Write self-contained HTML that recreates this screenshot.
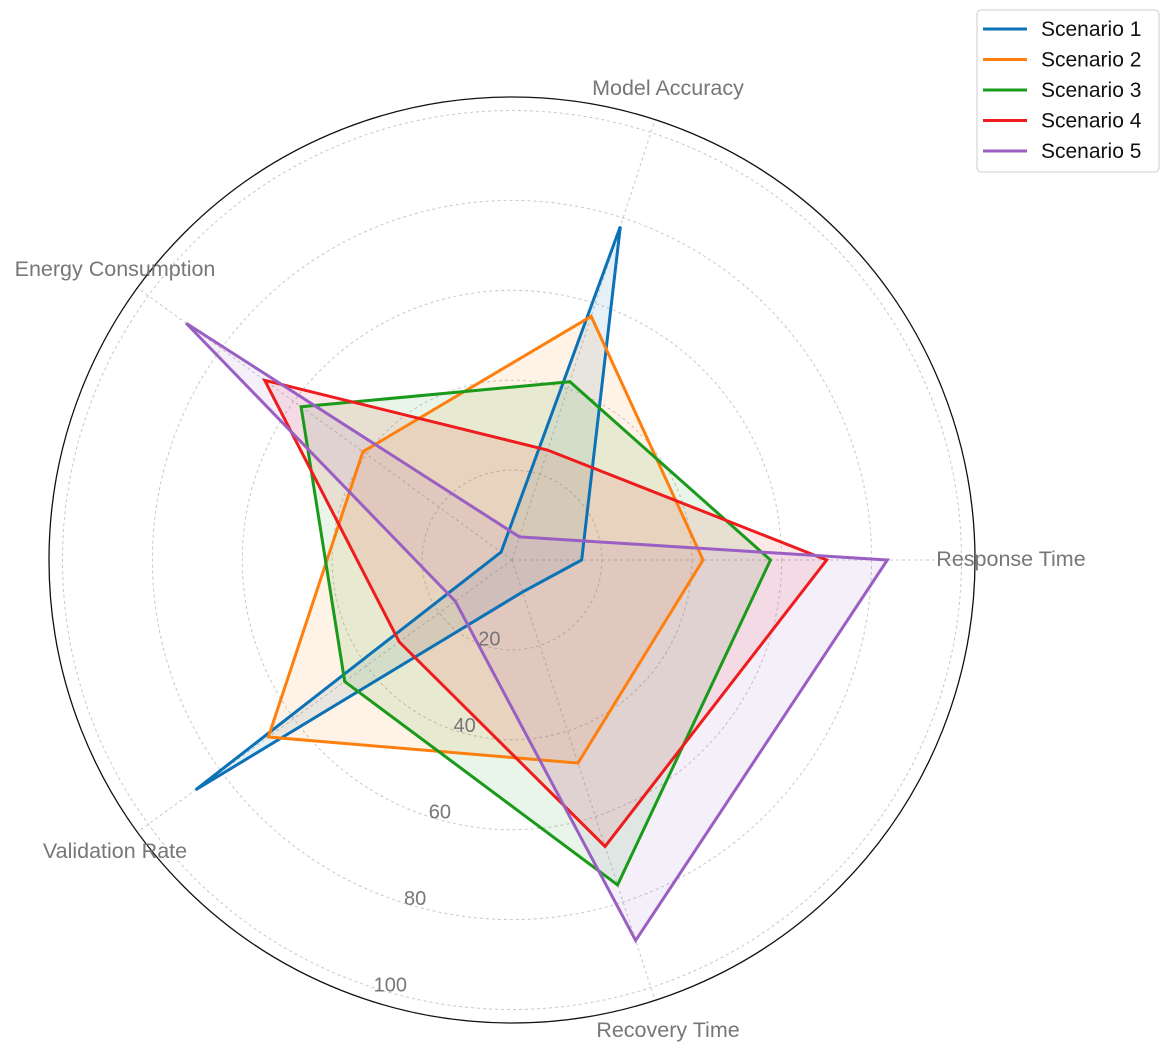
<!DOCTYPE html>
<html><head><meta charset="utf-8"><style>
body{margin:0;background:#fff;}
svg text{font-family:"Liberation Sans","DejaVu Sans",sans-serif;}
</style></head><body>
<svg id="chart" width="1170" height="1055" viewBox="0 0 1170 1055" xmlns="http://www.w3.org/2000/svg"></svg>
<script>
const categories=["Response Time","Model Accuracy","Energy Consumption","Validation Rate","Recovery Time"];
const seriesNames=["Scenario 1","Scenario 2","Scenario 3","Scenario 4","Scenario 5"];
const s1=[15.5,78,3,87,7.5];
const s2=[42.5,57,41,67,47.5];
const s3=[57.5,41.7,58,46,76];
const s4=[70,25.7,68,31,67];
const s5=[83.5,5.4,89.6,15.6,89];
const tickLabels=["20","40","60","80","100"];
const tickValues=[20,40,60,80,100];
const colors=["#0b72b5","#ff7f0e","#1a9a1a","#ee1c1c","#9a5fc2"];
const allSeries=[s1,s2,s3,s4,s5];

const NS="http://www.w3.org/2000/svg";
const svg=document.getElementById("chart");
const cx=512,cy=560,R=463,maxV=103;
function rScale(v){return v/maxV*R;}
function ang(i){return i*2*Math.PI/categories.length;}
function pt(i,v){const a=ang(i),r=rScale(v);return [cx+r*Math.cos(a),cy-r*Math.sin(a)];}
function mk(tag,attrs){const e=document.createElementNS(NS,tag);for(const k in attrs)e.setAttribute(k,attrs[k]);svg.appendChild(e);return e;}

tickValues.forEach((v,j)=>{
  const c=mk("circle",{cx:cx,cy:cy,r:rScale(v),fill:"none",stroke:"#c8c8c8","stroke-dasharray":"3,3","stroke-width":1});
  
  
});
categories.forEach((c,i)=>{
  const [x,y]=pt(i,maxV);
  const l=mk("line",{x1:cx,y1:cy,x2:x,y2:y,stroke:"#c8c8c8","stroke-dasharray":"3,3","stroke-width":1});
  
  
});
const oc=mk("circle",{cx:cx,cy:cy,r:R,fill:"none",stroke:"#111","stroke-width":1.3});



allSeries.forEach((s,k)=>{
  const pts=s.map((v,i)=>pt(i,v).join(",")).join(" ");
  const f=mk("polygon",{points:pts,fill:colors[k],"fill-opacity":0.1,stroke:"none"});
  
  
});
allSeries.forEach((s,k)=>{
  const pts=s.map((v,i)=>pt(i,v).join(",")).join(" ");
  const p=mk("polygon",{points:pts,fill:"none",stroke:colors[k],"stroke-width":3,"stroke-linejoin":"miter"});
  
  
});

tickValues.forEach((v,j)=>{
  const a=254*Math.PI/180,r=rScale(v)-8;
  const t=mk("text",{x:cx+r*Math.cos(a),y:cy-r*Math.sin(a)+7,"font-size":20,fill:"#777","text-anchor":"middle"});
  t.textContent=tickLabels[j];
  
  
});
const labelPos=[[1011,566,"middle"],[668,95,"middle"],[115,276,"middle"],[115,858,"middle"],[668,1037,"middle"]];
categories.forEach((c,i)=>{
  const t=mk("text",{x:labelPos[i][0],y:labelPos[i][1],"font-size":21.5,fill:"#777","text-anchor":labelPos[i][2]});
  t.textContent=c;
  
  
});

const lb=mk("rect",{x:977,y:10,width:182,height:162,rx:4,fill:"#fff",stroke:"#ccc","stroke-width":1});


seriesNames.forEach((n,k)=>{
  const y=29+k*30.5;
  const l=mk("line",{x1:983,y1:y,x2:1027,y2:y,stroke:colors[k],"stroke-width":3});
  
  
  const t=mk("text",{x:1041,y:y+7,"font-size":21,fill:"#111"});
  t.textContent=n;
  
  
});
</script>
</body></html>
